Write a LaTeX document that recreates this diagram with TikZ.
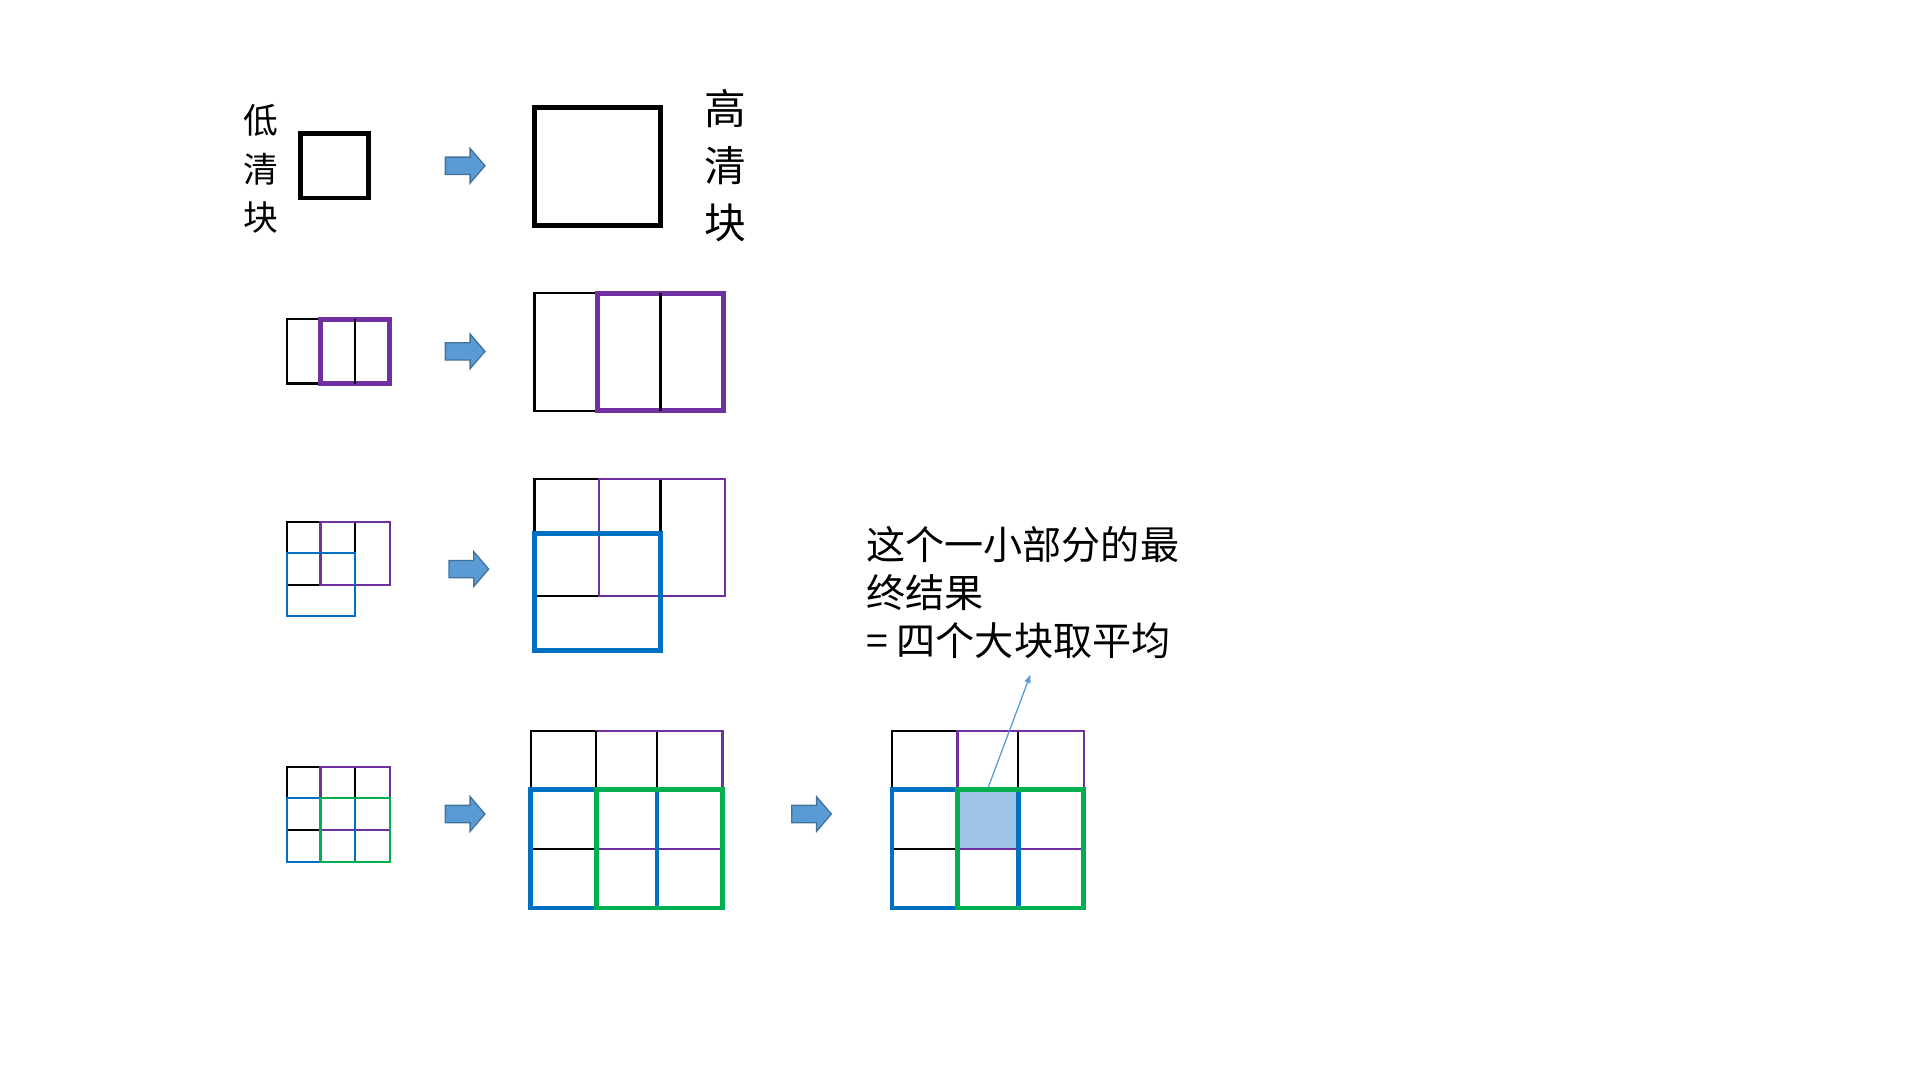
\documentclass[tikz,border=0pt]{standalone}
\usetikzlibrary{arrows.meta}
\usepackage{fontspec}
\newfontfamily\cjk{Noto Sans CJK SC}
\definecolor{pur}{HTML}{7030A0}
\definecolor{blu}{HTML}{0070C0}
\definecolor{grn}{HTML}{00B050}
\definecolor{arr}{HTML}{5B9BD5}
\definecolor{arrb}{HTML}{41719C}
\definecolor{fillb}{HTML}{9DC3E6}
\begin{document}
\begin{tikzpicture}[x=0.05cm,y=-0.05cm,
  thin1/.style={line width=2.6pt},
  thick1/.style={line width=5.5pt},
  lbl/.style={font=\cjk\fontsize{40pt}{46pt}\selectfont,inner sep=0pt},
  blockarrow/.pic={\draw[arrb,fill=arr,line width=1.5pt] (0,-7)--(20,-7)--(20,-14)--(32,0)--(20,14)--(20,7)--(0,7)--cycle;}]
\useasboundingbox (0,0) rectangle (1552,873);
% row 1
\node[lbl] (l1) at (211,97) {低};
\node[lbl] (l2) at (211,137) {清};
\node[lbl] (l3) at (211,176) {块};
\draw[thick1] (243,108) rectangle (298,160);
\pic at (360,134) {blockarrow};
\draw[thick1] (432,87) rectangle (534,182);
\node[lbl,font=\cjk\fontsize{48pt}{54pt}\selectfont] (h1) at (586,88) {高};
\node[lbl,font=\cjk\fontsize{48pt}{54pt}\selectfont] (h2) at (586,134) {清};
\node[lbl,font=\cjk\fontsize{48pt}{54pt}\selectfont] (h3) at (586,180) {块};
% row 2
\draw[thin1] (232,258) rectangle (259,310);
\draw[thick1,pur] (259,258) rectangle (315,310);
\draw[thin1] (287,258) -- (287,310);
\pic at (360,284) {blockarrow};
\draw[thin1] (432,237) rectangle (483,332);
\draw[thick1,pur] (483,237) rectangle (585,332);
\draw[thin1] (534,237) -- (534,332);
% row 3
\draw[thin1] (232,422) rectangle (287,473);
\draw[thin1] (259,422) -- (259,473) (232,447) -- (287,447);
\draw[thin1,pur] (259,422) rectangle (315,473);
\draw[thin1,blu] (232,447) rectangle (287,498);
\pic at (363,460) {blockarrow};
\draw[thin1] (432,387) rectangle (534,482);
\draw[thin1] (484,387) -- (484,482) (432,431) -- (534,431);
\draw[thin1,pur] (484,387) rectangle (586,482);
\draw[thick1,blu] (432,431) rectangle (534,526);
% row 4 small
\draw[thin1] (232,620) rectangle (287,671);
\draw[thin1,pur] (259,620) rectangle (315,671);
\draw[thin1,blu] (232,645) rectangle (287,697);
\draw[thin1,grn] (259,645) rectangle (315,697);
\pic at (360,658) {blockarrow};
% row 4 big
\draw[thin1] (429,591) rectangle (531,686);
\draw[thin1,pur] (482,591) rectangle (584,686);
\draw[thin1] (429,686) -- (482,686);
\draw[thin1,pur] (531,686) -- (584,686);
\draw[thin1] (482,591) -- (482,638);
\draw[thick1,blu] (429,638) rectangle (531,734);
\draw[thick1,grn] (482,638) rectangle (584,734);
\pic at (640,658) {blockarrow};
% row 4 result
\fill[fillb] (774,638) rectangle (823,686);
\draw[thin1] (721,591) rectangle (823,686);
\draw[thin1,pur] (774,591) rectangle (876,686);
\draw[thin1] (721,686) -- (774,686);
\draw[thin1,pur] (823,686) -- (876,686);
\draw[thick1,blu] (721,638) rectangle (823,734);
\draw[thick1,grn] (774,638) rectangle (876,734);
\coordinate (cs) at (799,636);
\coordinate (ce) at (833,545);
\draw[arr,line width=1.5pt,-{Latex[length=10pt,width=8pt]}] (cs) -- (ce);
% text
\node[anchor=west,font=\cjk\fontsize{45pt}{54pt}\selectfont,inner sep=0pt] (t1) at (700,440) {这个一小部分的最};
\node[anchor=west,font=\cjk\fontsize{45pt}{54pt}\selectfont,inner sep=0pt] (t2) at (700,479) {终结果};
\node[anchor=west,font=\cjk\fontsize{45pt}{54pt}\selectfont,inner sep=0pt] (t3) at (700,518) {= 四个大块取平均};
\end{tikzpicture}
\end{document}
